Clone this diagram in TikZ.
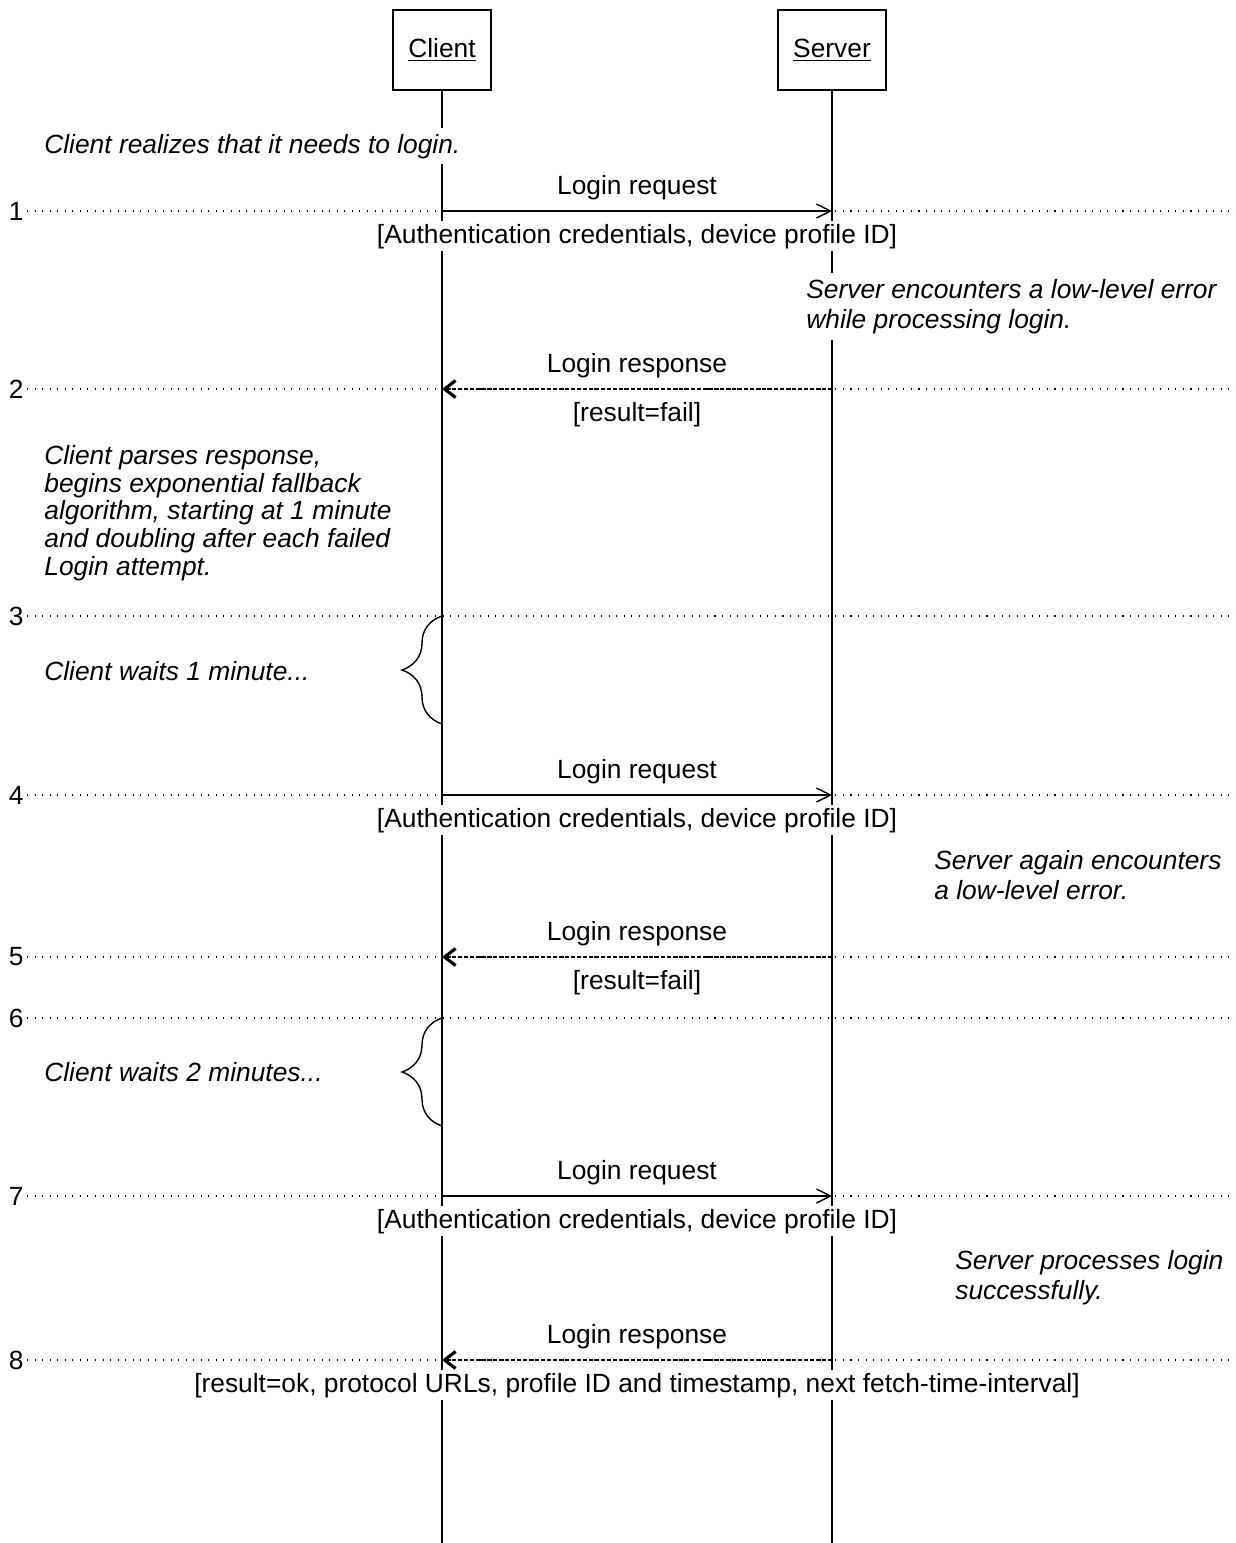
\documentclass[tikz,border=0pt]{standalone}
\usepackage{fontspec}
\setmainfont{Liberation Sans}
\usetikzlibrary{arrows.meta, positioning, decorations.pathreplacing, calc}

\begin{document}
\begin{tikzpicture}[x=0.02cm, y=-0.02cm, font=\fontsize{15}{18}\selectfont,
    actor/.style={draw, line width=1pt, fill=white, minimum height=1.6cm, inner xsep=0.31cm},
    lifeline/.style={line width=1pt},
    rowline/.style={line width=0.6pt, dash pattern=on 0.6pt off 3.7pt},
    rownum/.style={anchor=east, inner sep=0.06cm},
    req/.style={line width=0.8pt, -{Straight Barb[length=0.28cm, width=0.28cm]}},
    resp/.style={line width=0.8pt, dash pattern=on 2.3pt off 1.1pt, -{Straight Barb[length=0.22cm, width=0.34cm, line width=1.8pt]}},
    msg/.style={anchor=base, fill=white, inner sep=0.06cm},
    note/.style={font=\fontsize{15}{17}\selectfont\itshape, align=left, fill=white, inner sep=0.12cm},
    wait/.style={decorate, decoration={brace, amplitude=0.8cm}, line width=0.8pt}]
    \fill[white] (0,0) rectangle (1236,1543);
    \useasboundingbox (0,0) rectangle (1236,1543);

    % rows
    \node[rownum] (n1) at (27,211) {1};
    \node[rownum] (n2) at (27,389) {2};
    \node[rownum] (n3) at (27,616) {3};
    \node[rownum] (n4) at (27,795) {4};
    \node[rownum] (n5) at (27,957) {5};
    \node[rownum] (n6) at (27,1018) {6};
    \node[rownum] (n7) at (27,1196) {7};
    \node[rownum] (n8) at (27,1360) {8};
    \coordinate (e1) at (1236,211);
    \coordinate (e2) at (1236,389);
    \coordinate (e3) at (1236,616);
    \coordinate (e4) at (1236,795);
    \coordinate (e5) at (1236,957);
    \coordinate (e6) at (1236,1018);
    \coordinate (e7) at (1236,1196);
    \coordinate (e8) at (1236,1360);
    \draw[rowline] (n1.east) -- (e1);
    \draw[rowline] (n2.east) -- (e2);
    \draw[rowline] (n3.east) -- (e3);
    \draw[rowline] (n4.east) -- (e4);
    \draw[rowline] (n5.east) -- (e5);
    \draw[rowline] (n6.east) -- (e6);
    \draw[rowline] (n7.east) -- (e7);
    \draw[rowline] (n8.east) -- (e8);

    % actors and lifelines
    \node[actor] (client) at (442,50) {\underline{Client}};
    \node[actor] (server) at (832,50) {\underline{Server}};
    \coordinate (clientend) at (442,1543);
    \coordinate (serverend) at (832,1543);
    \draw[lifeline] (client) -- (clientend);
    \draw[lifeline] (server) -- (serverend);

    % messages
    \coordinate (c1) at (442,211);  \coordinate (s1) at (832,211);
    \coordinate (c2) at (442,389);  \coordinate (s2) at (832,389);
    \coordinate (c4) at (442,795);  \coordinate (s4) at (832,795);
    \coordinate (c5) at (442,957);  \coordinate (s5) at (832,957);
    \coordinate (c7) at (442,1196); \coordinate (s7) at (832,1196);
    \coordinate (c8) at (442,1360); \coordinate (s8) at (832,1360);
    \draw[req] (c1) -- node[msg, yshift=0.34cm] {Login request}
        node[msg, yshift=-0.64cm] {[Authentication credentials, device profile ID]} (s1);
    \draw[resp] (s2) -- node[msg, yshift=0.34cm] {Login response}
        node[msg, yshift=-0.64cm] {[result=fail]} (c2);
    \draw[req] (c4) -- node[msg, yshift=0.34cm] {Login request}
        node[msg, yshift=-0.64cm] {[Authentication credentials, device profile ID]} (s4);
    \draw[resp] (s5) -- node[msg, yshift=0.34cm] {Login response}
        node[msg, yshift=-0.64cm] {[result=fail]} (c5);
    \draw[req] (c7) -- node[msg, yshift=0.34cm] {Login request}
        node[msg, yshift=-0.64cm] {[Authentication credentials, device profile ID]} (s7);
    \draw[resp] (s8) -- node[msg, yshift=0.34cm] {Login response}
        node[msg, yshift=-0.64cm] {[result=ok, protocol URLs, profile ID and timestamp, next fetch-time-interval]} (c8);

    % notes
    \node[note, anchor=base west] (realize) at (38,153) {Client realizes that it needs to login.};
    \node[note, anchor=north west] (srverr) at (800,273) {Server encounters a low-level error\\while processing login.};
    \node[note, anchor=north west, font=\fontsize{15}{15.8}\selectfont\itshape] (parse) at (38,439)
        {Client parses response,\\begins exponential fallback\\algorithm, starting at 1 minute\\and doubling after each failed\\Login attempt.};
    \node[note, anchor=base west] (wait1) at (38,680) {Client waits 1 minute...};
    \node[note, anchor=north west] (srvagain) at (928,844) {Server again encounters\\a low-level error.};
    \node[note, anchor=base west] (wait2) at (38,1081) {Client waits 2 minutes...};
    \node[note, anchor=north west] (srvok) at (949,1244) {Server processes login\\successfully.};

    % waits
    \coordinate (w1top) at (442,616); \coordinate (w1bot) at (442,724);
    \coordinate (w2top) at (442,1018); \coordinate (w2bot) at (442,1126);
    \draw[wait] (w1bot) -- (w1top);
    \draw[wait] (w2bot) -- (w2top);
\end{tikzpicture}
\end{document}
